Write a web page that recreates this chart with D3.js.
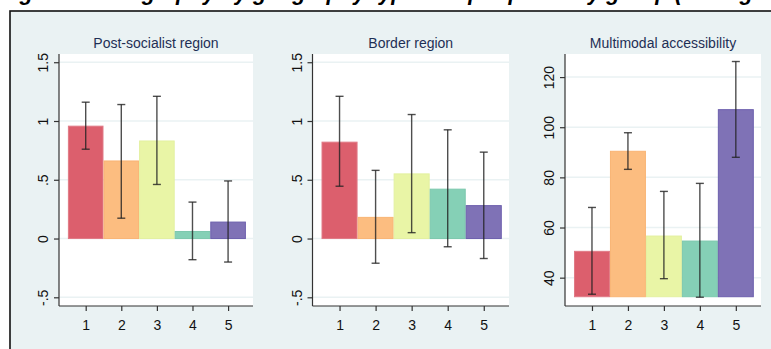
<!DOCTYPE html>
<html>
<head>
<meta charset="utf-8">
<script src="https://cdn.jsdelivr.net/npm/d3@7"></script>
<style>
  body { margin: 0; background: #fff; }
  svg { display: block; font-family: "Liberation Sans", Arial, sans-serif; }
</style>
</head>
<body>
<svg id="chart" width="771" height="349"></svg>
<script>
// categories shared by all three panels
const categories = [1, 2, 3, 4, 5];
const colors = ['#dc5f6d', '#fcbd80', '#e9f5a6', '#85d0b6', '#7f72b6'];
const strokes = ['#e07a86', '#f9b474', '#e3f0a0', '#7cc8ad', '#6c5fad'];

// panel 1: Post-socialist region
const postMean = [0.956, 0.66, 0.83, 0.06, 0.14];
const postLo = [0.76, 0.173, 0.46, -0.18, -0.20];
const postHi = [1.16, 1.14, 1.21, 0.31, 0.49];
const postTicks = [-0.5, 0, 0.5, 1, 1.5];

// panel 2: Border region
const borderMean = [0.82, 0.18, 0.55, 0.42, 0.28];
const borderLo = [0.445, -0.21, 0.05, -0.07, -0.17];
const borderHi = [1.21, 0.58, 1.055, 0.925, 0.735];

// panel 3: Multimodal accessibility
const accMean = [50.5, 90.4, 56.6, 54.6, 107.0];
const accLo = [33.4, 83.2, 39.6, 32.2, 88.0];
const accHi = [68.0, 97.8, 74.4, 77.6, 126.2];
const accTicks = [40, 60, 80, 100, 120];

const fmtShare = d => (d === 0 ? '0' : String(d).replace(/^(-?)0\./, '$1.'));

const panels = [
  { title: 'Post-socialist region', left: 59, right: 253, yDomain: [-0.574, 1.57], base: 0,
    mean: postMean, lo: postLo, hi: postHi, ticks: postTicks, fmt: fmtShare },
  { title: 'Border region', left: 312.5, right: 509, yDomain: [-0.574, 1.57], base: 0,
    mean: borderMean, lo: borderLo, hi: borderHi, ticks: postTicks, fmt: fmtShare },
  { title: 'Multimodal accessibility', left: 565, right: 761, yDomain: [28.7, 129.2], base: 32.4,
    mean: accMean, lo: accLo, hi: accHi, ticks: accTicks, fmt: d => String(d) }
];

const svg = d3.select('#chart');
const plotTop = 54, plotBottom = 306;

// caption of the page above the figure, cropped so only descenders show
svg.append('text')
  .attr('x', 0).attr('y', 0)
  .style('font-size', '22px').style('font-weight', 'bold').style('font-style', 'italic')
  .text('Figure: Demography by geography type and peripherality group (average change)');

// outer frame
svg.append('rect')
  .attr('x', 10).attr('y', 11).attr('width', 780).attr('height', 360)
  .attr('fill', '#eaf2f3').attr('stroke', '#111').attr('stroke-width', 1.6);

panels.forEach(p => {
  const g = svg.append('g');
  const x = d3.scaleLinear().domain([0.25, 5.7]).range([p.left, p.right]);
  const y = d3.scaleLinear().domain(p.yDomain).range([plotBottom, plotTop]);
  const unit = x(1) - x(0);

  // white plot region
  g.append('rect')
    .attr('x', p.left).attr('y', plotTop)
    .attr('width', p.right - p.left).attr('height', plotBottom - plotTop)
    .attr('fill', '#fff');

  // gridlines
  g.selectAll('.grid').data(p.ticks).join('line')
    .attr('x1', p.left).attr('x2', p.right)
    .attr('y1', d => y(d)).attr('y2', d => y(d))
    .attr('stroke', '#eaf2f3').attr('stroke-width', 1.5);

  // bars
  g.selectAll('.bar').data(categories).join('rect')
    .attr('x', d => x(d) - unit / 2 + 0.5)
    .attr('width', unit - 1)
    .attr('y', (d, i) => Math.min(y(p.mean[i]), y(p.base)))
    .attr('height', (d, i) => Math.abs(y(p.base) - y(p.mean[i])))
    .attr('fill', (d, i) => colors[i])
    .attr('stroke', (d, i) => strokes[i])
    .attr('stroke-width', 1);

  // confidence intervals
  const ci = g.selectAll('.ci').data(categories).join('g')
    .attr('stroke', '#222').attr('stroke-opacity', 0.8).attr('stroke-width', 1.4);
  ci.append('line')
    .attr('x1', d => x(d)).attr('x2', d => x(d))
    .attr('y1', (d, i) => y(p.lo[i])).attr('y2', (d, i) => y(p.hi[i]));
  ci.append('line')
    .attr('x1', d => x(d) - 4).attr('x2', d => x(d) + 4)
    .attr('y1', (d, i) => y(p.lo[i])).attr('y2', (d, i) => y(p.lo[i]));
  ci.append('line')
    .attr('x1', d => x(d) - 4).attr('x2', d => x(d) + 4)
    .attr('y1', (d, i) => y(p.hi[i])).attr('y2', (d, i) => y(p.hi[i]));

  // y axis, labels rotated like Stata
  const yAxis = g.append('g')
    .attr('transform', `translate(${p.left},0)`)
    .call(d3.axisLeft(y).tickValues(p.ticks).tickSize(5).tickSizeOuter(0).tickFormat(p.fmt));
  yAxis.select('.domain').attr('d', `M0,${plotTop}V${plotBottom}`);
  yAxis.selectAll('text')
    .attr('transform', 'translate(-11,0) rotate(-90)')
    .attr('x', 0).attr('y', 0).attr('dy', 0)
    .attr('text-anchor', 'middle');

  // x axis
  const xAxis = g.append('g')
    .attr('transform', `translate(0,${plotBottom})`)
    .call(d3.axisBottom(x).tickValues(categories).tickSize(5).tickSizeOuter(0).tickFormat(d3.format('d')));
  xAxis.select('.domain').attr('d', `M${p.left},0H${p.right}`);
  xAxis.selectAll('text').attr('y', 14).attr('dy', '0.71em');

  [yAxis, xAxis].forEach(a => {
    a.selectAll('.domain, line').attr('stroke', '#333').attr('stroke-width', 1.2);
    a.selectAll('text').attr('fill', '#111').style('font-size', '14px')
      .style('font-family', '"Liberation Sans", Arial, sans-serif');
  });

  // panel title
  g.append('text')
    .attr('x', (p.left + p.right) / 2).attr('y', 48)
    .attr('text-anchor', 'middle')
    .attr('fill', '#1e2f55')
    .style('font-size', '14px')
    .text(p.title);
});
</script>
</body>
</html>
